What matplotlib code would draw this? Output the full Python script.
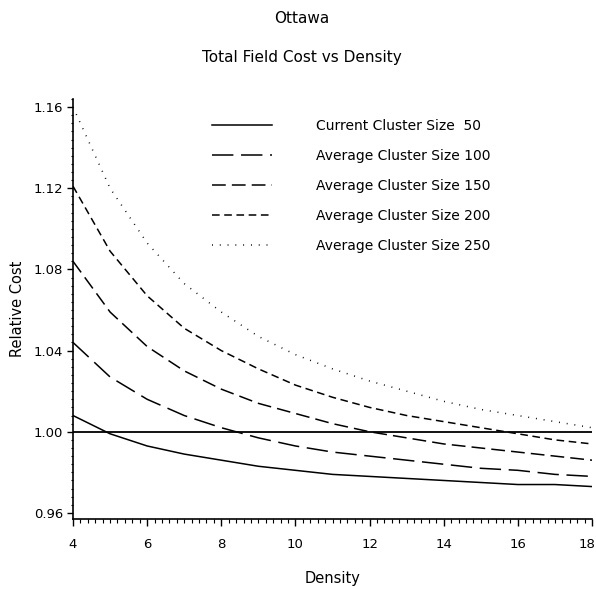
import numpy as np
import matplotlib
matplotlib.use("Agg")
import matplotlib.pyplot as plt
import matplotlib.ticker as ticker
from matplotlib.transforms import ScaledTranslation

# ---------------------------- data ---------------------------- #
density = [4, 5, 6, 7, 8, 9, 10, 11, 12, 13, 14, 15, 16, 17, 18]

cost_50  = [1.008, 0.999, 0.993, 0.989, 0.986, 0.983, 0.981, 0.979, 0.978, 0.977, 0.976, 0.975, 0.974, 0.974, 0.973]
cost_100 = [1.044, 1.027, 1.016, 1.008, 1.002, 0.997, 0.993, 0.990, 0.988, 0.986, 0.984, 0.982, 0.981, 0.979, 0.978]
cost_150 = [1.084, 1.059, 1.042, 1.030, 1.021, 1.014, 1.009, 1.004, 1.000, 0.997, 0.994, 0.992, 0.990, 0.988, 0.986]
cost_200 = [1.121, 1.089, 1.067, 1.051, 1.040, 1.031, 1.023, 1.017, 1.012, 1.008, 1.005, 1.002, 0.999, 0.996, 0.994]
cost_250 = [1.160, 1.120, 1.093, 1.073, 1.059, 1.047, 1.038, 1.031, 1.025, 1.020, 1.015, 1.011, 1.008, 1.005, 1.002]

labels = ["Current Cluster Size  50",
          "Average Cluster Size 100",
          "Average Cluster Size 150",
          "Average Cluster Size 200",
          "Average Cluster Size 250"]

x_ticks = [4, 6, 8, 10, 12, 14, 16, 18]
y_ticks = [0.96, 1.00, 1.04, 1.08, 1.12, 1.16]
# --------------------------------------------------------------------------------- #

plt.rcParams['font.family'] = 'DejaVu Sans'

fig = plt.figure(figsize=(5.96, 5.89), dpi=100)
ax = fig.add_axes([0.1225, 0.1188, 0.8708, 0.7132])

styles = [
    dict(linestyle='-'),
    dict(linestyle=(0, (14, 5))),
    dict(linestyle=(0, (9, 4))),
    dict(linestyle=(0, (5, 3))),
    dict(linestyle=(0, (0.6, 4.5))),
]
series = [cost_50, cost_100, cost_150, cost_200, cost_250]

for y, st, lab in zip(series, styles, labels):
    ax.plot(density, y, color='k', lw=1.1, label=lab, **st)

# reference line at 1.00
ax.axhline(1.0, color='k', lw=1.3, zorder=1)

ax.set_xlim(4, 18)
ax.set_ylim(0.957, 1.164)
ax.set_xticks(x_ticks)
ax.set_yticks(y_ticks)
ax.xaxis.set_minor_locator(ticker.MultipleLocator(0.2))
ax.yaxis.set_minor_locator(ticker.MultipleLocator(0.004))
ax.yaxis.set_major_formatter(ticker.FormatStrFormatter('%.2f'))

for s in ['top', 'right']:
    ax.spines[s].set_visible(False)
ax.spines['left'].set_linewidth(1.2)
ax.spines['bottom'].set_linewidth(1.2)

ax.tick_params(axis='x', which='major', direction='out', length=5, width=1, pad=9, labelsize=9.5)
ax.tick_params(axis='x', which='minor', direction='out', length=3, width=0.8)
ax.tick_params(axis='y', which='major', direction='out', length=4, width=1, pad=3, labelsize=9.5)
ax.tick_params(axis='y', which='minor', direction='out', length=1.5, width=0.8)

# nudge the last x tick label left so it stays inside the figure
fig.canvas.draw()
last = ax.get_xticklabels()[-1]
last.set_transform(last.get_transform() + ScaledTranslation(-0.05, 0, fig.dpi_scale_trans))

ax.set_xlabel("Density", fontsize=10.5, labelpad=14)
ax.set_ylabel("Relative Cost", fontsize=10.5, labelpad=6)

fig.text(0.507, 0.968, "Ottawa", ha='center', va='center', fontsize=11)
fig.text(0.507, 0.903, "Total Field Cost vs Density", ha='center', va='center', fontsize=11)

ax.legend(loc='upper left', bbox_to_anchor=(0.356, 0.798), bbox_transform=fig.transFigure,
          frameon=False, fontsize=10, handlelength=4.3, handletextpad=3.2,
          labelspacing=1.15, borderpad=0, borderaxespad=0)

plt.savefig("out.png", dpi=100)
